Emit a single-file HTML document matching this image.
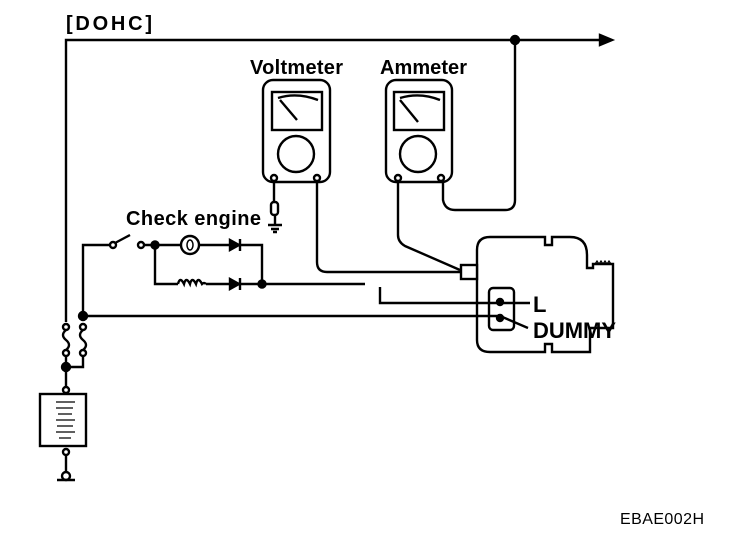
<!DOCTYPE html>
<html><head><style>body{margin:0;background:#fff}svg{display:block}</style></head><body>
<svg width="736" height="536" viewBox="0 0 736 536" xmlns="http://www.w3.org/2000/svg" font-family="Liberation Sans, sans-serif" fill="none" stroke="#000" stroke-width="2.4">
<text x="66" y="30" font-size="20" font-weight="bold" textLength="86" fill="#000" stroke="none">[DOHC]</text>
<path d="M66 322 V40 H600"/>
<polygon points="600,35 612,40 600,45" fill="#000"/>
<circle cx="515" cy="40" r="4" fill="#000"/>
<path d="M515 40 V200 Q515 210 505 210 H455 Q445 210 443 200 V181"/>
<text x="250" y="74" font-size="20" font-weight="bold" textLength="93" fill="#000" stroke="none">Voltmeter</text>
<text x="380" y="74" font-size="20" font-weight="bold" textLength="87" fill="#000" stroke="none">Ammeter</text>
<rect x="263" y="80" width="67" height="102" rx="10"/>
<rect x="272" y="92" width="50" height="38"/>
<path d="M278 98 Q297 92 318 100 M280 100 L297 120"/>
<circle cx="296" cy="154" r="18"/>
<circle cx="274" cy="178" r="3" fill="#fff"/><circle cx="317" cy="178" r="3" fill="#fff"/>
<rect x="386" y="80" width="66" height="102" rx="10"/>
<rect x="394" y="92" width="50" height="38"/>
<path d="M400 98 Q420 92 440 100 M400 100 L418 122"/>
<circle cx="418" cy="154" r="18"/>
<circle cx="398" cy="178" r="3" fill="#fff"/><circle cx="441" cy="178" r="3" fill="#fff"/>
<path d="M274 181 V202"/><rect x="271" y="202" width="7" height="13" rx="3"/>
<path d="M275 215 V225 M268 225 H282 M271 229 H279 M273 232 H277"/>
<path d="M317 181 V262 Q317 272 327 272 H460"/>
<path d="M398 181 V235 Q398 242 405 246 L460 270"/>
<path d="M477 250 Q477 237 490 237 H545 V245 H552 V237 H570 Q587 237 587 255 V268 H593 V264 H613 V328 H590 V352 H552 V344 H545 V352 H490 Q477 352 477 340 Z" fill="#fff"/>
<path d="M595 264 l2 -3 l2 3 l2 -3 l2 3 l2 -3 l2 3 l2 -3 l2 3" stroke-width="1.2"/>
<rect x="461" y="265" width="16" height="14" fill="#fff"/>
<rect x="489" y="288" width="25" height="42" rx="4"/>
<text x="533" y="312" font-size="22" font-weight="bold" fill="#000" stroke="none">L</text>
<text x="533" y="338" font-size="22" font-weight="bold" textLength="83" fill="#000" stroke="none">DUMMY</text>
<path d="M380 287 V303 H530"/>
<path d="M83 316 H500 L528 328"/>
<circle cx="500" cy="302" r="3" fill="#000"/><circle cx="500" cy="318" r="3" fill="#000"/>
<text x="126" y="225" font-size="20" font-weight="bold" textLength="135" fill="#000" stroke="none">Check engine</text>
<path d="M83 316 V245 H110"/>
<circle cx="113" cy="245" r="3"/><path d="M115 243 L130 235"/><circle cx="141" cy="245" r="3"/>
<path d="M144 245 H181 M199 245 H262 V284 M155 245 V284 H178 M206 284 H262 H365"/>
<circle cx="155" cy="245" r="3.5" fill="#000"/>
<circle cx="190" cy="245" r="9" fill="#fff"/><ellipse cx="190" cy="245" rx="3" ry="5" stroke-width="1.5"/>
<polygon points="230,240 239,245 230,250" fill="#000"/><path d="M240 239 V251"/>
<polygon points="230,279 239,284 230,289" fill="#000"/><path d="M240 278 V290"/>
<path d="M178 284 q2 -8 6 0 q2 -8 6 0 q2 -8 6 0 q2 -8 6 0 q2 -2 4 0"/>
<circle cx="262" cy="284" r="3.5" fill="#000"/>
<circle cx="83" cy="316" r="4" fill="#000"/>
<circle cx="66" cy="327" r="3" fill="#fff"/><path d="M66 330 q-6 5 0 10 q6 5 0 10"/><circle cx="66" cy="353" r="3" fill="#fff"/>
<circle cx="83" cy="327" r="3" fill="#fff"/><path d="M83 330 q-6 5 0 10 q6 5 0 10"/><circle cx="83" cy="353" r="3" fill="#fff"/>
<path d="M66 356 V387 M66 367 H83 V356"/>
<circle cx="66" cy="367" r="4" fill="#000"/>
<circle cx="66" cy="390" r="3" fill="#fff"/>
<rect x="40" y="394" width="46" height="52"/>
<path d="M56 402 H75 M56 408 H73 M58 414 H72 M56 420 H75 M57 426 H73 M56 432 H75 M59 438 H71" stroke-width="1.2"/>
<circle cx="66" cy="452" r="3" fill="#fff"/>
<path d="M66 455 V472"/><circle cx="66" cy="476" r="4" fill="#fff"/><path d="M57 480 H75"/>
<text x="620" y="524" font-size="16" textLength="84" fill="#000" stroke="none">EBAE002H</text>
</svg>
</body></html>
